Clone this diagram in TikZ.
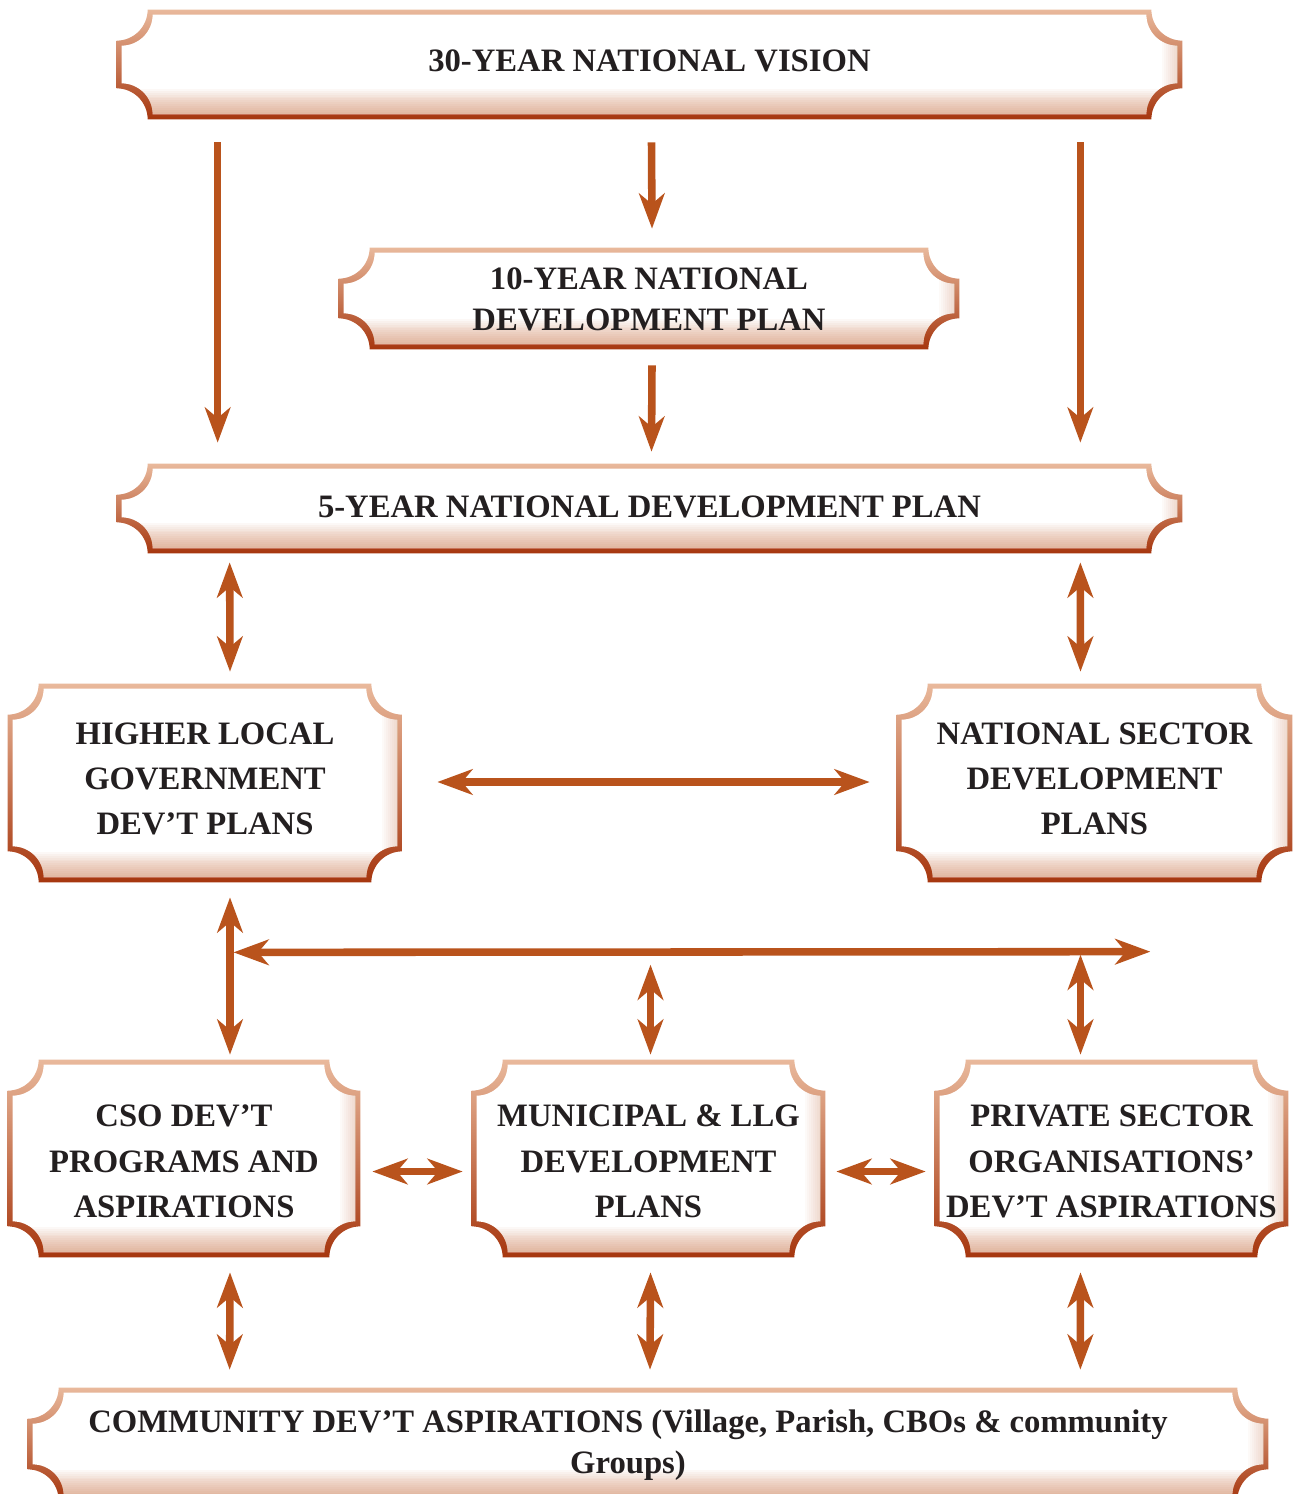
\documentclass[tikz,border=0pt]{standalone}
\usepackage{fontspec}
\setmainfont{Liberation Serif}
\usetikzlibrary{arrows.meta,fit}
\definecolor{plqlight}{HTML}{E9B99C}
\definecolor{plqmid}{HTML}{CF7A48}
\definecolor{plqdark}{HTML}{A6360E}
\definecolor{plqshadow}{HTML}{C8693A}
\definecolor{arrowcol}{HTML}{B9531C}
\definecolor{txtcol}{HTML}{231F20}
\tikzset{
        % Plaque frames
        plaque/.style={inner sep=0pt},
        % Plaque texts
        plaque_text/.style={inner sep=0pt, align=center, text=txtcol, font=\bfseries\fontsize{18.6}{25.8}\selectfont},
        plaque_text_two/.style={plaque_text, font=\bfseries\fontsize{18.6}{23}\selectfont},
        % One-way arrows
        arrow_one/.style={-{Stealth[length=20pt,width=14.5pt,inset=6pt]}, line width=4.3pt, draw=arrowcol},
        % Two-way arrows
        arrow_two/.style={{Stealth[length=20pt,width=14.5pt,inset=6pt]}-{Stealth[length=20pt,width=14.5pt,inset=6pt]}, line width=4.3pt, draw=arrowcol}
}
% outline of a plaque with hollow corners: node, radius, inset
\newcommand\plaquepath[3]{%
  ([shift={({#2+#3},{-#3})}]#1.north west)
  -- ([shift={({-#2-#3},{-#3})}]#1.north east)
  arc[start angle=180, end angle=270, radius=#2]
  -- ([shift={({-#3},{#2+#3})}]#1.south east)
  arc[start angle=90, end angle=180, radius=#2]
  -- ([shift={({#2+#3},{#3})}]#1.south west)
  arc[start angle=0, end angle=90, radius=#2]
  -- ([shift={({#3},{-#2-#3})}]#1.north west)
  arc[start angle=270, end angle=360, radius=#2]
  -- cycle}
\newcommand\plaqueframe[1]{%
  \shade[top color=plqlight, middle color=plqmid, bottom color=plqdark] \plaquepath{#1}{0.62cm}{0pt};
  \fill[white] \plaquepath{#1}{0.62cm}{0.1cm};
  \begin{scope}
    \clip \plaquepath{#1}{0.62cm}{0.1cm};
    \foreach \k in {1,...,10}
      \fill[plqshadow, opacity=0.03] ([xshift=-\k*0.04cm]#1.north east) rectangle (#1.south east);
    \foreach \k in {1,...,16}
      \fill[plqshadow, opacity=0.045] ([yshift=\k*0.038cm]#1.south west) rectangle (#1.south east);
  \end{scope}}

\begin{document}
\begin{tikzpicture}[x=0.02cm, y=-0.02cm]
    \useasboundingbox (0,0) rectangle (1297,1494);

    \node[plaque, fit={(117,10) (1182,119)}] (vision) {};
    \node[plaque, fit={(339,248) (959,349)}] (tenyr) {};
    \node[plaque, fit={(117,464) (1182,553)}] (fiveyr) {};
    \node[plaque, fit={(8,684) (402,882)}] (hlg) {};
    \node[plaque, fit={(897,684) (1292,882)}] (nsd) {};
    \node[plaque, fit={(8,1060) (360,1257)}] (cso) {};
    \node[plaque, fit={(472,1060) (825,1257)}] (mun) {};
    \node[plaque, fit={(935,1060) (1288,1257)}] (pso) {};
    \node[plaque, fit={(28,1388) (1268,1500)}] (comm) {};

    \foreach \b in {vision,tenyr,fiveyr,hlg,nsd,cso,mun,pso,comm}
        {\plaqueframe{\b}}

    \node[plaque_text] (vision_txt) at ([shift={(0,-4)}]vision) {30-YEAR NATIONAL VISION};
    \node[plaque_text_two] (tenyr_txt) at ([shift={(0,1)}]tenyr) {10-YEAR NATIONAL\\DEVELOPMENT PLAN};
    \node[plaque_text] (fiveyr_txt) at ([shift={(0,-2)}]fiveyr) {5-YEAR NATIONAL DEVELOPMENT PLAN};
    \node[plaque_text] (hlg_txt) at ([shift={(0,-4)}]hlg) {HIGHER LOCAL\\GOVERNMENT\\DEV’T PLANS};
    \node[plaque_text] (nsd_txt) at ([shift={(0,-4)}]nsd) {NATIONAL SECTOR\\DEVELOPMENT\\PLANS};
    \node[plaque_text] (cso_txt) at ([shift={(0,3)}]cso) {CSO DEV’T\\PROGRAMS AND\\ASPIRATIONS};
    \node[plaque_text] (mun_txt) at ([shift={(0,3)}]mun) {MUNICIPAL \& LLG\\DEVELOPMENT\\PLANS};
    \node[plaque_text] (pso_txt) at ([shift={(0,3)}]pso) {PRIVATE SECTOR\\ORGANISATIONS’\\DEV’T ASPIRATIONS};
    \node[plaque_text_two] (comm_txt) at ([shift={(-20,1)}]comm) {COMMUNITY DEV’T ASPIRATIONS (Village, Parish, CBOs \& community\\Groups)};

    % top-down
    \draw[arrow_one] ([shift={(101,23)}]vision.south west) -- ([shift={(101,-21)}]fiveyr.north west);
    \draw[arrow_one] ([shift={(2,23)}]vision.south) -- ([shift={(3,-19)}]tenyr.north);
    \draw[arrow_one] ([shift={(-102,23)}]vision.south east) -- ([shift={(-102,-21)}]fiveyr.north east);
    \draw[arrow_one] ([shift={(3,16)}]tenyr.south) -- ([shift={(2,-12)}]fiveyr.north);

    % both ways
    \draw[arrow_two] ([shift={(113,9)}]fiveyr.south west) -- ([shift={(25,-12)}]hlg.north);
    \draw[arrow_two] ([shift={(-102,9)}]fiveyr.south east) -- ([shift={(-14,-12)}]nsd.north);
    \draw[arrow_two] ([shift={(35,-1)}]hlg.east) -- ([shift={(-27,-1)}]nsd.west);

    \coordinate (lhub) at ([shift={(25,70)}]hlg.south);
    \coordinate (rhub) at ([shift={(-138,-108)}]pso.north east);
    \draw[arrow_two] ([shift={(25,15)}]hlg.south) -- ([shift={(46,-5)}]cso.north);
    \draw[arrow_two, shorten <=2pt] (lhub) -- (rhub);
    \draw[arrow_two] ([shift={(2,-95)}]mun.north) -- ([shift={(2,-5)}]mun.north);
    \draw[arrow_two] ([shift={(-31,-105)}]pso.north) -- ([shift={(-31,-5)}]pso.north);

    \draw[arrow_two] ([shift={(12,13)}]cso.east) -- ([shift={(-9,13)}]mun.west);
    \draw[arrow_two] ([shift={(11,13)}]mun.east) -- ([shift={(-9,13)}]pso.west);

    \draw[arrow_two] ([shift={(46,15)}]cso.south) -- ([shift={(202,-18)}]comm.north west);
    \draw[arrow_two] ([shift={(2,15)}]mun.south) -- ([shift={(2,-18)}]comm.north);
    \draw[arrow_two] ([shift={(-31,15)}]pso.south) -- ([shift={(-188,-18)}]comm.north east);
\end{tikzpicture}
\end{document}
